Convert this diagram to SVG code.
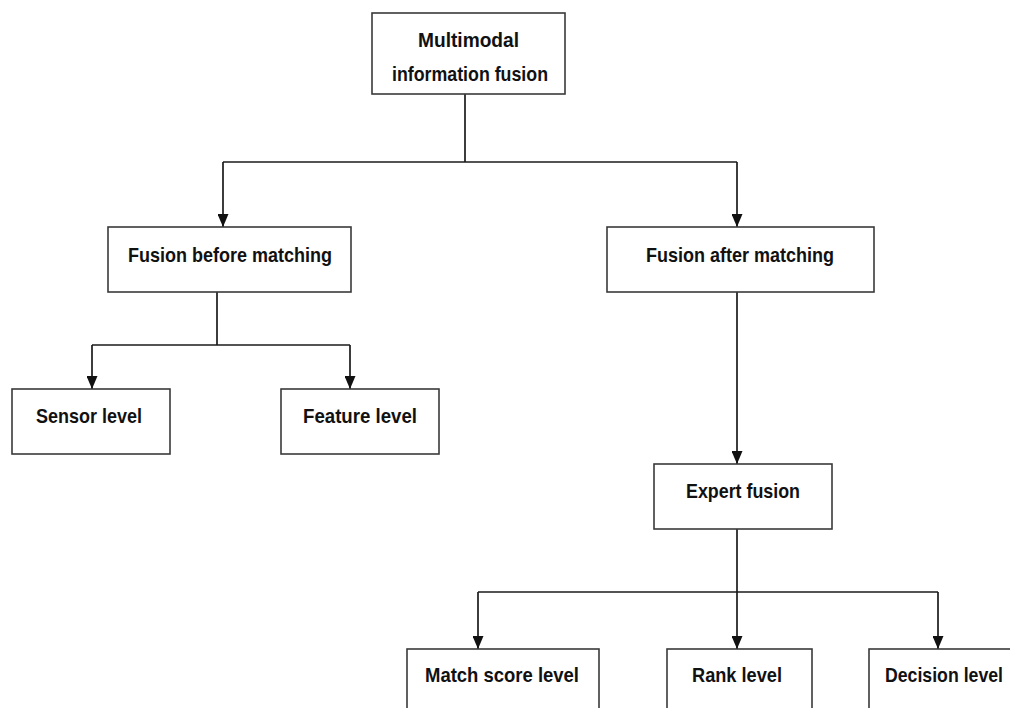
<svg xmlns="http://www.w3.org/2000/svg" width="1010" height="708" viewBox="0 0 1010 708">
  <style>
    .box { fill: #ffffff; stroke: #3a3a3a; stroke-width: 1.6; }
    .lbl { font-family: "Liberation Sans", Arial, sans-serif; font-weight: bold; font-size: 21px; fill: #111111; text-anchor: middle; }
    .wire { fill: none; stroke: #1a1a1a; stroke-width: 1.7; }
  </style>
  <defs>
    <marker id="arrow" markerUnits="userSpaceOnUse" markerWidth="14" markerHeight="11" refX="13" refY="5.5" orient="auto" viewBox="0 0 14 11">
      <path d="M0,0 L13,5.5 L0,11 z" fill="#111111"/>
    </marker>
  </defs>
  <rect width="1010" height="708" fill="#ffffff"/>

  <!-- connectors -->
  <g id="connectors">
    <path class="wire" d="M465,94 V162"/>
    <path class="wire" d="M223,162 H737"/>
    <path class="wire" d="M223,162 V227" marker-end="url(#arrow)"/>
    <path class="wire" d="M737,162 V227" marker-end="url(#arrow)"/>

    <path class="wire" d="M217,292 V345"/>
    <path class="wire" d="M92,345 H350"/>
    <path class="wire" d="M92,345 V389" marker-end="url(#arrow)"/>
    <path class="wire" d="M350,345 V389" marker-end="url(#arrow)"/>

    <path class="wire" d="M737,292 V464" marker-end="url(#arrow)"/>

    <path class="wire" d="M737,529 V649" marker-end="url(#arrow)"/>
    <path class="wire" d="M478,592 H938"/>
    <path class="wire" d="M478,592 V649" marker-end="url(#arrow)"/>
    <path class="wire" d="M938,592 V649" marker-end="url(#arrow)"/>
  </g>

  <!-- nodes -->
  <g id="multimodal-fusion">
    <rect class="box" x="372" y="13" width="193" height="81"/>
    <text class="lbl" x="468.5" y="47" textLength="101" lengthAdjust="spacingAndGlyphs">Multimodal</text>
    <text class="lbl" x="470" y="81" textLength="156" lengthAdjust="spacingAndGlyphs">information fusion</text>
  </g>

  <g id="fusion-before-matching">
    <rect class="box" x="108" y="227" width="243" height="65"/>
    <text class="lbl" x="230" y="262" textLength="204" lengthAdjust="spacingAndGlyphs">Fusion before matching</text>
  </g>

  <g id="fusion-after-matching">
    <rect class="box" x="607" y="227" width="267" height="65"/>
    <text class="lbl" x="740" y="262" textLength="188" lengthAdjust="spacingAndGlyphs">Fusion after matching</text>
  </g>

  <g id="sensor-level">
    <rect class="box" x="12" y="389" width="158" height="65"/>
    <text class="lbl" x="89" y="423" textLength="106" lengthAdjust="spacingAndGlyphs">Sensor level</text>
  </g>

  <g id="feature-level">
    <rect class="box" x="281" y="389" width="158" height="65"/>
    <text class="lbl" x="360" y="423" textLength="114" lengthAdjust="spacingAndGlyphs">Feature level</text>
  </g>

  <g id="expert-fusion">
    <rect class="box" x="654" y="464" width="178" height="65"/>
    <text class="lbl" x="743" y="498" textLength="114" lengthAdjust="spacingAndGlyphs">Expert fusion</text>
  </g>

  <g id="match-score-level">
    <rect class="box" x="407" y="649" width="192" height="70"/>
    <text class="lbl" x="502" y="682" textLength="154" lengthAdjust="spacingAndGlyphs">Match score level</text>
  </g>

  <g id="rank-level">
    <rect class="box" x="667" y="649" width="145" height="70"/>
    <text class="lbl" x="737" y="682" textLength="90" lengthAdjust="spacingAndGlyphs">Rank level</text>
  </g>

  <g id="decision-level">
    <rect class="box" x="869" y="649" width="150" height="70"/>
    <text class="lbl" x="944" y="682" textLength="118" lengthAdjust="spacingAndGlyphs">Decision level</text>
  </g>
</svg>
